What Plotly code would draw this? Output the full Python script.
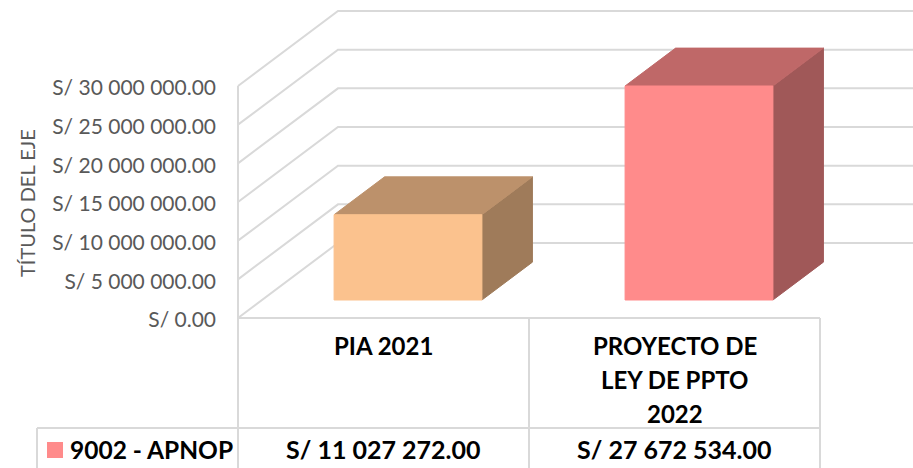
import plotly.graph_objects as go

categories = ["PIA 2021", "PROYECTO DE<br>LEY DE PPTO<br>2022"]
values = [11027272.00, 27672534.00]
value_labels = ["S/ 11 027 272.00", "S/ 27 672 534.00"]
series_name = "9002 - APNOP"
tick_values = [0, 5000000, 10000000, 15000000, 20000000, 25000000, 30000000]
tick_labels = ["S/ 0.00", "S/ 5 000 000.00", "S/ 10 000 000.00", "S/ 15 000 000.00",
               "S/ 20 000 000.00", "S/ 25 000 000.00", "S/ 30 000 000.00"]
axis_title = "TÍTULO DEL EJE"

front_colors = ["#FBC28E", "#FF8B8B"]
top_colors = ["#BC916B", "#BF6868"]
side_colors = ["#9F7B5A", "#A05858"]
GRID = "#D9D9D9"
FONT = "Lato, Carlito, Calibri, sans-serif"

W, H = 913, 468
PLOT_LEFT = 238
CAT_PX = 291.0
ZERO_PX = 318.0
UNITS_PER_PX = 30000000 / 232.0
DEPTH_X = 100 / CAT_PX       # oblique shift of the full depth, in category units
DEPTH_Y = 75 * UNITS_PER_PX  # oblique shift of the full depth, in value units
X_MAX = (W - PLOT_LEFT) / CAT_PX
BAR_WIDTH = 0.508
D0, D1 = 0.24, 0.745
BAR_SHIFT = 0.5 / CAT_PX


def px_x(p):
    return (p - PLOT_LEFT) / CAT_PX


def px_y(p):
    return (ZERO_PX - p) * UNITS_PER_PX


def project(x, v, d):
    return x + d * DEPTH_X, v + d * DEPTH_Y


fig = go.Figure()


def line(xs, ys, color=GRID, width=2):
    fig.add_trace(go.Scatter(x=xs, y=ys, mode="lines", line=dict(color=color, width=width),
                             hoverinfo="skip", showlegend=False))


def poly(points, color):
    xs = [p[0] for p in points] + [points[0][0]]
    ys = [p[1] for p in points] + [points[0][1]]
    fig.add_trace(go.Scatter(x=xs, y=ys, mode="lines", fill="toself", fillcolor=color,
                             line=dict(color=color, width=1), hoverinfo="skip", showlegend=False))


# Walls: each gridline runs up the side wall, then along the back wall
for t in tick_values:
    bx, by = project(0, t, 1)
    line([0, bx, X_MAX], [t, by, by])

# Chart-table rules
line([0, 0], [tick_values[-1], px_y(H)])
line([0, 2], [0, 0])
line([1, 1], [0, px_y(H)])
line([2, 2], [0, px_y(H)])
line([px_x(37), 2], [px_y(428), px_y(428)])
line([px_x(37), px_x(37)], [px_y(428), px_y(H)])

# 3D columns
for i, v in enumerate(values):
    xl = i + 0.5 - BAR_WIDTH / 2 + BAR_SHIFT
    xr = i + 0.5 + BAR_WIDTH / 2 + BAR_SHIFT
    poly([project(xr, 0, D0), project(xr, 0, D1), project(xr, v, D1), project(xr, v, D0)], side_colors[i])
    poly([project(xl, v, D0), project(xr, v, D0), project(xr, v, D1), project(xl, v, D1)], top_colors[i])
    poly([project(xl, 0, D0), project(xr, 0, D0), project(xr, v, D0), project(xl, v, D0)], front_colors[i])

# Legend key in the table
fig.add_trace(go.Scatter(x=[px_x(55)], y=[px_y(450)], mode="markers",
                         marker=dict(symbol="square", size=16, color=front_colors[1], line=dict(width=0)),
                         hoverinfo="skip", showlegend=False))

bold = dict(family=FONT, size=24, color="#000000")
bold_values = dict(family=FONT, size=25, color="#000000")
annotations = []
for i, c in enumerate(categories):
    for j, part in enumerate(c.split("<br>")):
        annotations.append(dict(x=i + 0.5, y=px_y(345 + 34 * j), text=f"<b>{part}</b>", showarrow=False,
                                yanchor="middle", xanchor="center", font=bold))
    annotations.append(dict(x=i + 0.5, y=px_y(449), text=f"<b>{value_labels[i]}</b>", showarrow=False,
                            xanchor="center", yanchor="middle", font=bold_values))
annotations.append(dict(x=px_x(68), y=px_y(449), text=f"<b>{series_name}</b>", showarrow=False,
                        xanchor="left", yanchor="middle",
                        font=dict(family=FONT, size=24.5, color="#000000")))
annotations.append(dict(x=px_x(27), y=px_y(203), text=axis_title, showarrow=False, textangle=-90,
                        xanchor="center", yanchor="middle",
                        font=dict(family=FONT, size=20, color="#595959")))

fig.update_layout(
    width=W, height=H, margin=dict(l=0, r=0, t=0, b=0),
    paper_bgcolor="white", plot_bgcolor="white", showlegend=False,
    annotations=annotations,
    xaxis=dict(range=[px_x(0), X_MAX], visible=False, fixedrange=True, domain=[0, 1]),
    yaxis=dict(range=[px_y(H), px_y(0)], tickmode="array", tickvals=tick_values, ticktext=tick_labels,
               anchor="free", position=PLOT_LEFT / W,
               showgrid=False, zeroline=False, showline=False, ticks="", ticklabelstandoff=22,
               ticklabelshift=2,
               tickfont=dict(family=FONT, size=21, color="#595959"), fixedrange=True),
)
fig.write_html("out.html", config={"displayModeBar": False},
               post_script="document.body.style.margin='0';document.documentElement.style.overflow='hidden';")
